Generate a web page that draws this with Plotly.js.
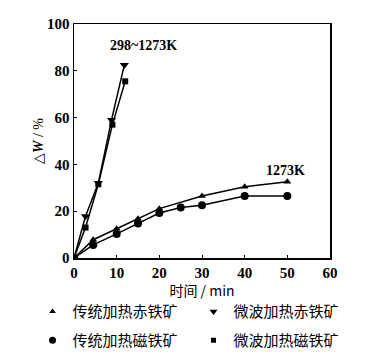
<!DOCTYPE html>
<html><head><meta charset="utf-8">
<script src="https://cdn.plot.ly/plotly-3.0.1.min.js"></script>
<style>html,body{margin:0;padding:0;background:#fff}</style>
</head><body><div id="chart" style="width:390px;height:362px"></div>
<script>
// Conventional heating (1273K)
const convHemTime = [0, 4.5, 10, 15, 20, 30, 40, 50];
const convHemLoss = [0, 7.8, 12.5, 16.8, 21.1, 26.5, 30.4, 32.6];
const convMagTime = [0, 4.5, 10, 15, 20, 25, 30, 40, 50];
const convMagLoss = [0, 5.6, 10.3, 14.7, 19.2, 21.6, 22.5, 26.5, 26.5];
// Microwave heating (298~1273K)
const mwHemTime = [0, 2.7, 5.7, 8.8, 11.8];
const mwHemLoss = [0, 17.8, 32, 59, 82.5];
const mwMagTime = [0, 2.7, 5.7, 9, 12];
const mwMagLoss = [0, 13, 31.5, 57, 75.5];

// Tick labels
const xTicks = [0, 10, 20, 30, 40, 50, 60];
const yTicks = [0, 20, 40, 60, 80, 100];

const names = ['传统加热赤铁矿', '微波加热赤铁矿', '传统加热磁铁矿', '微波加热磁铁矿'];
const symbols = ['triangle-up', 'triangle-down', 'circle', 'square'];
const sizes = [7, 8, 8, 6];
const legendOf = ['legend', 'legend', 'legend2', 'legend2'];
const xs = [convHemTime, mwHemTime, convMagTime, mwMagTime];
const ys = [convHemLoss, mwHemLoss, convMagLoss, mwMagLoss];

const serif = 'Liberation Serif';
const cjk = 'Noto Sans CJK SC';

const traces = [];
for (let i = 0; i < 4; i++) {
  traces.push({
    x: xs[i], y: ys[i], mode: 'lines+markers', showlegend: false,
    line: {color: '#000', width: 1.5},
    marker: {symbol: symbols[i], size: sizes[i], color: '#000'}
  });
}
for (let i = 0; i < 4; i++) {
  traces.push({
    x: [null], y: [null], mode: 'markers', name: names[i], showlegend: true,
    legend: legendOf[i],
    marker: {symbol: symbols[i], size: sizes[i] - 1, color: '#000'}
  });
}

const legendBase = {
  orientation: 'h', x: -0.162, xanchor: 'left', yanchor: 'top',
  entrywidth: 116, entrywidthmode: 'pixels',
  font: {family: cjk, size: 15, color: '#000'},
  bgcolor: 'rgba(0,0,0,0)', traceorder: 'normal'
};

const layout = {
  width: 390, height: 362,
  font: {family: serif, size: 15, color: '#000'},
  margin: {l: 74, r: 60, t: 24, b: 104, autoexpand: false},
  paper_bgcolor: '#fff', plot_bgcolor: '#fff',
  xaxis: {
    range: [0, 60], tickmode: 'array', tickvals: xTicks,
    ticktext: xTicks.map(v => '<b>' + v + '</b>'),
    showline: true, mirror: true, linecolor: '#000', linewidth: 1.5,
    ticks: 'inside', ticklen: 3, tickcolor: '#000', showgrid: false, zeroline: false,
    tickfont: {family: serif, size: 15, color: '#000'},
    title: {text: '时间 / min', font: {family: cjk, size: 14, color: '#000'}, standoff: 4}
  },
  yaxis: {
    range: [0, 100], tickmode: 'array', tickvals: yTicks,
    ticktext: yTicks.map(v => '<b>' + v + '</b>'),
    showline: true, mirror: true, linecolor: '#000', linewidth: 1.5,
    ticks: 'inside', ticklen: 3, tickcolor: '#000', showgrid: false, zeroline: false,
    tickfont: {family: serif, size: 15, color: '#000'},
    title: {text: '△<b><i>W</i></b> / %', font: {family: serif, size: 14, color: '#000'}, standoff: 0}
  },
  legend: Object.assign({}, legendBase, {y: -0.159}),
  legend2: Object.assign({}, legendBase, {y: -0.282}),
  annotations: [
    {x: 16.2, y: 91, text: '<b>298~1273K</b>', showarrow: false, font: {family: serif, size: 14, color: '#000'}},
    {x: 49.6, y: 37.6, text: '<b>1273K</b>', showarrow: false, font: {family: serif, size: 14, color: '#000'}}
  ]
};

Plotly.newPlot('chart', traces, layout, {displayModeBar: false, staticPlot: true});
</script>
</body></html>
